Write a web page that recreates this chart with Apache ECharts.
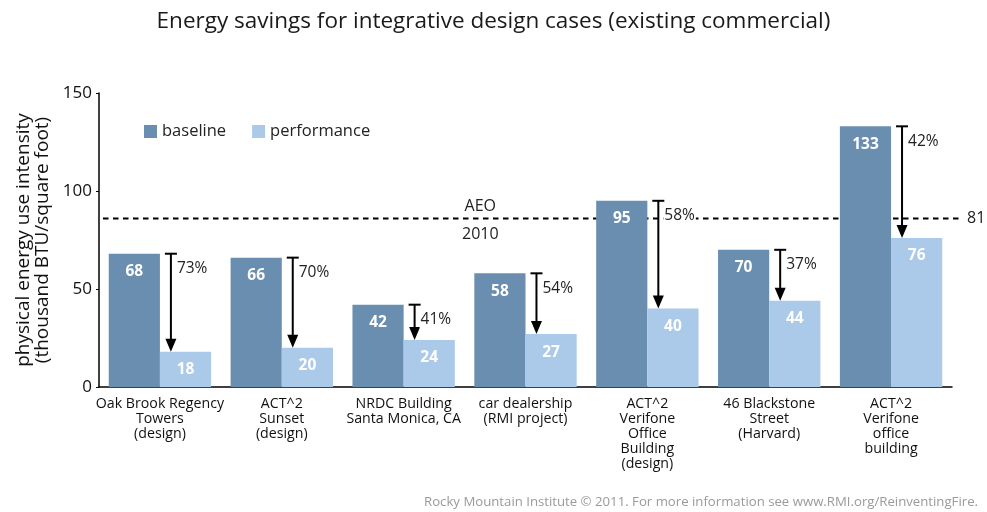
<!DOCTYPE html>
<html>
<head>
<meta charset="utf-8">
<script src="https://cdn.jsdelivr.net/npm/echarts@6/dist/echarts.min.js"></script>
<style>
  html, body { margin: 0; padding: 0; background: #fff; }
  #chart { width: 987px; height: 512px; }
</style>
</head>
<body>
<div id="chart"></div>
<script>
// data
const categories = [
  "Oak Brook Regency\nTowers\n(design)",
  "ACT^2\nSunset\n(design)",
  "NRDC Building\nSanta Monica, CA",
  "car dealership\n(RMI project)",
  "ACT^2\nVerifone\nOffice\nBuilding\n(design)",
  "46 Blackstone\nStreet\n(Harvard)",
  "ACT^2\nVerifone\noffice\nbuilding"
];
const baseline = [68, 66, 42, 58, 95, 70, 133];
const performance = [18, 20, 24, 27, 40, 44, 76];
const savingsPct = [73, 70, 41, 54, 58, 37, 42];
const aeoLevel = 86;
const aeoLabel = "81";

const FONT = '"Open Sans", "DejaVu Sans", sans-serif';

const chart = echarts.init(document.getElementById("chart"));

chart.setOption({
  animation: false,
  title: {
    text: "Energy savings for integrative design cases (existing commercial)",
    left: "center",
    top: 5,
    textStyle: { fontFamily: FONT, fontSize: 22.5, fontWeight: "normal", color: "#1a1a1a" }
  },
  graphic: [
    {
      type: "text",
      right: 9,
      top: 496,
      style: {
        text: "Rocky Mountain Institute © 2011. For more information see www.RMI.org/ReinventingFire.",
        fill: "#9a9a9a",
        font: "13.2px " + FONT
      }
    }
  ],
  legend: {
    left: 139,
    top: 118,
    itemWidth: 13,
    itemHeight: 13,
    itemGap: 26,
    icon: "rect",
    data: ["baseline", "performance"],
    textStyle: { fontFamily: FONT, fontSize: 16.5, color: "#222" }
  },
  grid: { left: 99, right: 35, top: 93, bottom: 125, outerBoundsMode: "none" },
  xAxis: {
    type: "category",
    data: categories,
    axisTick: { show: false },
    axisLine: { lineStyle: { color: "#000", width: 1.5 } },
    axisLabel: {
      interval: 0,
      margin: 9,
      color: "#111",
      fontFamily: FONT,
      fontSize: 14.2,
      lineHeight: 15
    }
  },
  yAxis: {
    type: "value",
    min: 0,
    max: 150,
    interval: 50,
    name: "physical energy use intensity\n(thousand BTU/square foot)",
    nameLocation: "middle",
    nameGap: 43,
    nameTextStyle: { fontFamily: FONT, fontSize: 19, color: "#111", lineHeight: 19 },
    splitLine: { show: false },
    axisTick: { show: true, length: 3, lineStyle: { color: "#000", width: 1 } },
    axisLine: { show: true, lineStyle: { color: "#000", width: 1.5 } },
    axisLabel: { color: "#111", fontFamily: FONT, fontSize: 17, margin: 7 }
  },
  series: [
    {
      name: "baseline",
      type: "bar",
      data: baseline,
      barWidth: "42%",
      barGap: "0%",
      itemStyle: { color: "#6a8eaf" },
      label: {
        show: true,
        position: "insideTop",
        distance: 10,
        color: "#fff",
        fontWeight: "bold",
        fontFamily: FONT,
        fontSize: 15.5
      },
      z: 2
    },
    {
      name: "performance",
      type: "bar",
      data: performance,
      barWidth: "42%",
      itemStyle: { color: "#abc9e9" },
      label: {
        show: true,
        position: "insideTop",
        distance: 10,
        color: "#fff",
        fontWeight: "bold",
        fontFamily: FONT,
        fontSize: 15.5
      },
      z: 2
    },
    {
      // AEO 2010 reference line, over the bars but under their labels
      type: "custom",
      z: 2,
      silent: true,
      data: [[0, aeoLevel]],
      encode: { x: 0, y: 1 },
      renderItem: function (params, api) {
        const cs = params.coordSys;
        const y = api.coord([0, api.value(1)])[1];
        const x1 = cs.x + 4;
        const x2 = cs.x + cs.width + 11;
        const mid = cs.x + cs.width * 0.447;
        return {
          type: "group",
          children: [
            {
              type: "line",
              z2: 0.5,
              shape: { x1: x1, y1: y, x2: x2, y2: y },
              style: { stroke: "#000", lineWidth: 2, lineDash: [5.5, 4.5] }
            },
            {
              type: "text",
              z2: 0.5,
              x: mid, y: y - 12,
              style: { text: "AEO", fill: "#222", font: "16px " + FONT, align: "center", verticalAlign: "middle" }
            },
            {
              type: "text",
              z2: 0.5,
              x: mid, y: y + 16,
              style: { text: "2010", fill: "#222", font: "16px " + FONT, align: "center", verticalAlign: "middle" }
            },
            {
              type: "text",
              z2: 0.5,
              x: x2 + 4, y: y,
              style: { text: aeoLabel, fill: "#222", font: "16px " + FONT, align: "left", verticalAlign: "middle" }
            }
          ]
        };
      }
    },
    {
      // savings arrows
      type: "custom",
      z: 4,
      silent: true,
      data: baseline.map((b, i) => [i, b, performance[i], savingsPct[i]]),
      encode: { x: 0, y: [1, 2] },
      renderItem: function (params, api) {
        const i = api.value(0);
        const top = api.coord([i, api.value(1)]);
        const bot = api.coord([i, api.value(2)]);
        const band = api.size([1, 0])[0];
        const x = top[0] + band * 0.09;
        return {
          type: "group",
          children: [
            {
              type: "line",
              shape: { x1: x, y1: top[1], x2: x, y2: bot[1] - 10 },
              style: { stroke: "#000", lineWidth: 2 }
            },
            {
              type: "line",
              shape: { x1: x - 6, y1: top[1], x2: x + 6, y2: top[1] },
              style: { stroke: "#000", lineWidth: 2 }
            },
            {
              type: "polygon",
              shape: { points: [[x - 5.5, bot[1] - 13], [x + 5.5, bot[1] - 13], [x, bot[1]]] },
              style: { fill: "#000" }
            },
            {
              type: "text",
              x: x + 5, y: top[1] + 15,
              style: {
                text: api.value(3) + "%",
                fill: "#222",
                font: "15.5px " + FONT,
                verticalAlign: "middle",
                backgroundColor: "#fff",
                padding: [0, 1]
              }
            }
          ]
        };
      }
    }
  ]
});
</script>
</body>
</html>
